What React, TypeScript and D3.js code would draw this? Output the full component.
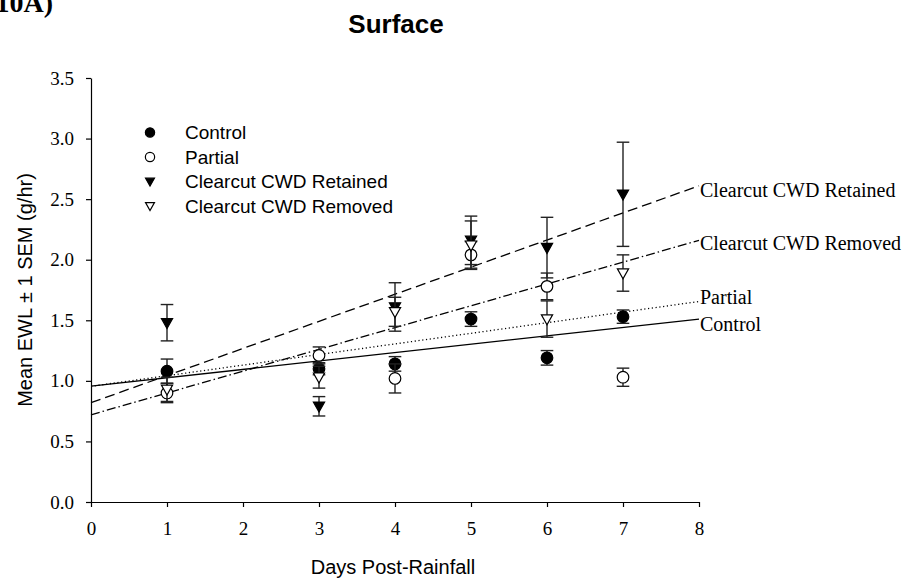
import React, { useEffect, useRef } from "react";
import * as d3 from "d3";

const days = [1, 3, 4, 5, 6, 7];
const seriesNames = ["Control", "Partial", "Clearcut CWD Retained", "Clearcut CWD Removed"];
const controlMean = [1.08, 1.10, 1.14, 1.51, 1.19, 1.53];
const controlSem = [0.10, 0.05, 0.06, 0.06, 0.06, 0.055];
const partialMean = [0.90, 1.21, 1.02, 2.04, 1.78, 1.03];
const partialSem = [0.08, 0.07, 0.12, 0.11, 0.11, 0.075];
const retainedMean = [1.48, 0.79, 1.61, 2.16, 2.10, 2.54];
const retainedSem = [0.15, 0.08, 0.20, 0.20, 0.25, 0.43];
const removedMean = [0.93, 1.03, 1.57, 2.12, 1.51, 1.89];
const removedSem = [0.10, 0.09, 0.12, 0.20, 0.15, 0.15];
// regression lines: value at day 0 and at day 8
const fitStart = [0.956, 0.955, 0.82, 0.72];
const fitEnd = [1.51, 1.655, 2.61, 2.16];
const fitLabelOffset = [4.5, -4.5, 4.5, 3];
const xTicks = [0, 1, 2, 3, 4, 5, 6, 7, 8];
const yTicks = [0, 0.5, 1, 1.5, 2, 2.5, 3, 3.5];

const W = 908, H = 584;
const x = d3.scaleLinear().domain([0, 8]).range([91, 699]);
const y = d3.scaleLinear().domain([0, 3.5]).range([502, 78]);

const SERIF = "'Liberation Serif', 'Times New Roman', serif";
const SANS = "'Liberation Sans', Arial, sans-serif";

const means = [controlMean, partialMean, retainedMean, removedMean];
const sems = [controlSem, partialSem, retainedSem, removedSem];
const dashes = ["none", "1.2,2.6", "10,5", "9,3,1.5,3"];
const filled = [true, false, true, false];
const shape = ["circle", "circle", "tri", "tri"];

function Marker({ kind, fill, cx, cy, s }: { kind: string; fill: boolean; cx: number; cy: number; s: number }) {
  const f = fill ? "#000" : "#fff";
  if (kind === "circle") {
    return <circle cx={cx} cy={cy} r={5.8 * s} fill={f} stroke="#000" strokeWidth={1.2} />;
  }
  const p = d3.path();
  p.moveTo(cx - 5.6 * s, cy - 4.2 * s);
  p.lineTo(cx + 5.6 * s, cy - 4.2 * s);
  p.lineTo(cx, cy + 5.8 * s);
  p.closePath();
  return <path d={p.toString()} fill={f} stroke="#000" strokeWidth={1.2} />;
}

export default function App() {
  const xAxisRef = useRef<SVGGElement>(null);
  const yAxisRef = useRef<SVGGElement>(null);

  useEffect(() => {
    const gx = d3.select(xAxisRef.current!);
    gx.call(
      d3.axisBottom(x).tickValues(xTicks).tickSize(5).tickSizeOuter(0).tickPadding(15).tickFormat(d3.format("d")) as any
    );
    gx.selectAll("text").attr("font-family", SERIF).attr("font-size", 19).attr("fill", "#000");
    gx.selectAll("line,path").attr("stroke", "#000").attr("stroke-width", 1.2);

    const gy = d3.select(yAxisRef.current!);
    gy.call(
      d3.axisLeft(y).tickValues(yTicks).tickSize(5).tickSizeOuter(0).tickPadding(12).tickFormat(d3.format(".1f")) as any
    );
    gy.selectAll("text").attr("font-family", SERIF).attr("font-size", 19).attr("fill", "#000");
    gy.selectAll("line,path").attr("stroke", "#000").attr("stroke-width", 1.2);
  }, []);

  const legendY = [132.5, 157, 181.5, 206];

  return (
    <svg width={W} height={H} style={{ position: "absolute", left: 0, top: 0, background: "#fff" }}>
      <rect x={0} y={0} width={W} height={H} fill="#fff" />
      <text x={53} y={12} textAnchor="end" fontFamily={SERIF} fontWeight="bold" fontSize={28}>(10A)</text>
      <text x={396} y={33} textAnchor="middle" fontFamily={SANS} fontWeight="bold" fontSize={26}>Surface</text>

      {/* regression lines */}
      {seriesNames.map((name, i) => (
        <g key={"fit" + i}>
          <line x1={x(0)} y1={y(fitStart[i])} x2={x(8)} y2={y(fitEnd[i])} stroke="#000" strokeWidth={1.3}
            strokeDasharray={dashes[i]} />
          <text x={x(8) + 1} y={y(fitEnd[i]) + fitLabelOffset[i]} dy="0.35em" fontFamily={SERIF} fontSize={20}>{name}</text>
        </g>
      ))}

      {/* error bars and markers */}
      {seriesNames.map((name, i) => (
        <g key={"s" + i}>
          {days.map((d, j) => {
            const cx = x(d);
            const top = y(means[i][j] + sems[i][j]);
            const bot = y(means[i][j] - sems[i][j]);
            return (
              <g key={j} stroke="#222" strokeWidth={1.4}>
                <line x1={cx} x2={cx} y1={top} y2={bot} />
                <line x1={cx - 6.3} x2={cx + 6.3} y1={top} y2={top} />
                <line x1={cx - 6.3} x2={cx + 6.3} y1={bot} y2={bot} />
              </g>
            );
          })}
          {days.map((d, j) => (
            <Marker key={"m" + j} kind={shape[i]} fill={filled[i]} cx={x(d)} cy={y(means[i][j])} s={1} />
          ))}
        </g>
      ))}

      <g ref={xAxisRef} transform={`translate(0,${y(0)})`} />
      <g ref={yAxisRef} transform={`translate(${x(0)},0)`} />

      <text x={393} y={574} textAnchor="middle" fontFamily={SANS} fontSize={20}>Days Post-Rainfall</text>
      <text transform={`translate(32,${(y(0) + y(3.5)) / 2}) rotate(-90)`} textAnchor="middle" fontFamily={SANS}
        fontSize={20}>Mean EWL ± 1 SEM (g/hr)</text>

      {/* legend */}
      {seriesNames.map((name, i) => (
        <g key={"lg" + i}>
          <Marker kind={shape[i]} fill={filled[i]} cx={150} cy={legendY[i]} s={0.8} />
          <text x={185} y={legendY[i]} dy="0.35em" fontFamily={SANS} fontSize={19}>{name}</text>
        </g>
      ))}
    </svg>
  );
}
